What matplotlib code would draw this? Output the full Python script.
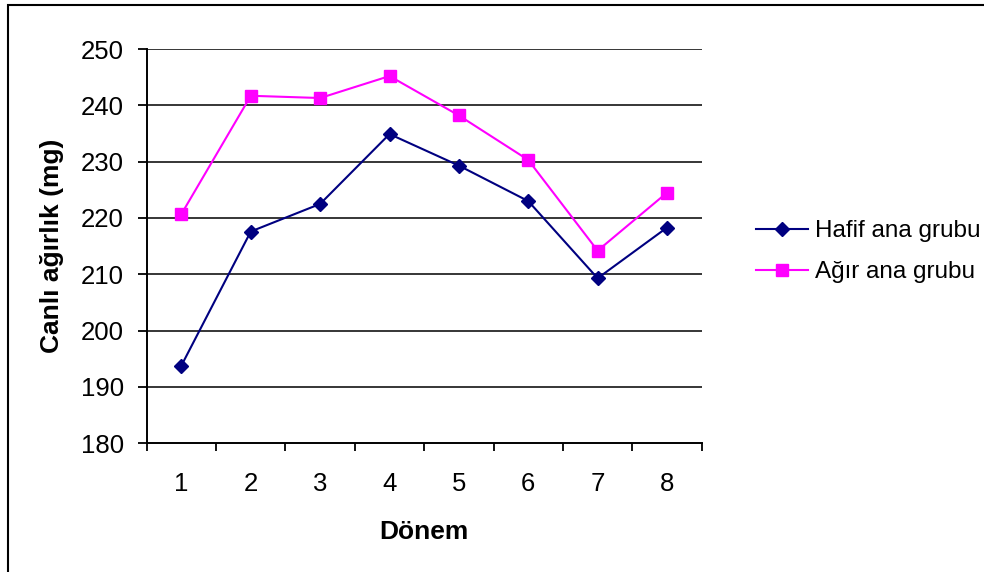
import matplotlib
matplotlib.use("Agg")
import matplotlib.pyplot as plt
from matplotlib.patches import Rectangle

plt.rcParams['font.family'] = ['Liberation Sans', 'DejaVu Sans']

periods = [1, 2, 3, 4, 5, 6, 7, 8]
period_labels = ["1", "2", "3", "4", "5", "6", "7", "8"]
hafif = [193.8, 217.6, 222.5, 234.9, 229.3, 223.0, 209.3, 218.3]
agir = [220.7, 241.7, 241.3, 245.2, 238.2, 230.3, 214.2, 224.5]
series_names = ["Hafif ana grubu", "Ağır ana grubu"]
yticks = [180, 190, 200, 210, 220, 230, 240, 250]

fig = plt.figure(figsize=(9.84, 5.72), dpi=100)
ax = fig.add_axes([0.1491, 0.2250, 0.5640, 0.6893])

ax.set_axisbelow(True)
for y in yticks[1:]:
    ax.axhline(y, color='black', lw=1.1, zorder=1)

ax.plot(periods, hafif, color='#000080', lw=1.5, marker='D', markersize=7.5,
        label=series_names[0], zorder=3)
ax.plot(periods, agir, color='#FF00FF', lw=1.5, marker='s', markersize=8,
        label=series_names[1], zorder=3)

ax.set_xlim(0.5, 8.5)
ax.set_ylim(180, 250)
ax.set_yticks(yticks)
ax.set_yticklabels([str(v) for v in yticks])
ax.set_xticks(periods)
ax.set_xticklabels(period_labels)
ax.set_xticks([p + 0.5 for p in [0] + periods], minor=True)
ax.tick_params(axis='x', which='major', length=0, pad=21, labelsize=18.5)
ax.tick_params(axis='x', which='minor', length=6, width=1.3, direction='out')
ax.tick_params(axis='y', length=6.5, width=1.3, direction='out', pad=10, labelsize=18.5)

for s in ['top', 'right']:
    ax.spines[s].set_visible(False)
for s in ['left', 'bottom']:
    ax.spines[s].set_linewidth(1.4)
    ax.spines[s].set_zorder(2)

ax.set_xlabel("Dönem", fontsize=19, fontweight='bold', labelpad=17)
ax.set_ylabel("Canlı ağırlık (mg)", fontsize=19, fontweight='bold', labelpad=12)

leg = ax.legend(loc='upper left', bbox_to_anchor=(1.0796, 0.591), frameon=False,
                fontsize=17.5, handlelength=2.15, handletextpad=0.29,
                labelspacing=0.8, borderaxespad=0)

fig.patches.append(Rectangle((8 / 984, -0.1), 1.2, 1.1 - 5 / 572,
                             transform=fig.transFigure, fill=False,
                             edgecolor='black', lw=1.5))

fig.savefig("out.png", dpi=100)
